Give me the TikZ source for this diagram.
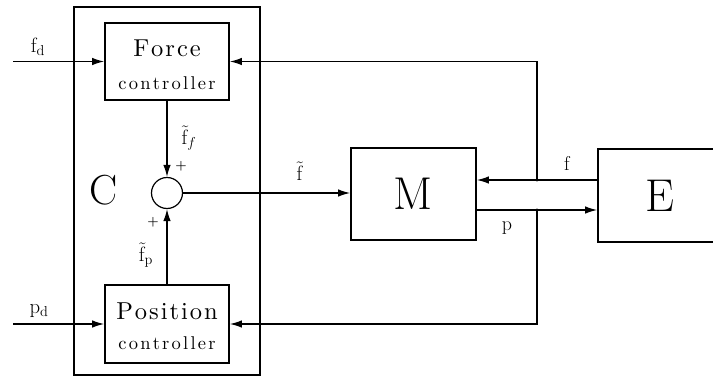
\documentclass[tikz,border=0pt]{standalone}
\usetikzlibrary{arrows.meta}
\makeatletter
\newcommand\lspaced[2]{\def\lsp@k{#1}\@tfor\lsp@c:=#2\do{\lsp@c\kern\lsp@k}\unkern}
\makeatother
\newcommand\boxbig[1]{\scalebox{2.45}{\fontsize{10}{12}\selectfont\lspaced{0.8pt}{#1}}}
\newcommand\boxsmall[1]{\scalebox{1.85}{\fontsize{10}{12}\selectfont\lspaced{1.2pt}{#1}}}
\begin{document}
\begin{tikzpicture}[x=1pt,y=-1pt,
  conn/.style={line width=1.2pt,-{Latex[length=12pt,width=7.5pt]}},
  blk/.style={draw,line width=1.8pt,inner sep=0pt},
  txt/.style={inner sep=0pt},
  lbl/.style={inner sep=0pt,font=\fontsize{20}{24}\selectfont},
  pls/.style={inner sep=0pt,font=\fontsize{13}{15}\selectfont\bfseries},
  big/.style={font=\fontsize{46}{50}\selectfont}]
\useasboundingbox (0,0) rectangle (713,378);
\clip (0,0) rectangle (713,378);
% outer controller box
\draw[line width=2.6pt] (74,7) rectangle (260,375);
\node[inner sep=0pt,font=\fontsize{42}{46}\selectfont] (C) at (104,190) {C};
% blocks
\node[blk,minimum width=124pt,minimum height=77pt] (fc) at (167,61.5) {};
\node[txt] (fc1) at (167,48.5) {\boxbig{Force}};
\node[txt] (fc2) at (167,83) {\boxsmall{controller}};
\node[blk,minimum width=124pt,minimum height=78pt] (pc) at (167,324) {};
\node[txt] (pc1) at (167,311.5) {\boxbig{Position}};
\node[txt] (pc2) at (167,343) {\boxsmall{controller}};
\node[draw,circle,line width=1.2pt,minimum size=31pt,inner sep=0pt] (sum) at (167,193) {};
\node[blk,minimum width=125pt,minimum height=92pt,big] (M) at (413.5,194) {M};
\node[blk,minimum width=124pt,minimum height=93pt,big] (E) at (660,195.5) {E};
% free ends and junctions
\coordinate (fdin) at (13,61.5);
\coordinate (pdin) at (13,324);
\coordinate (jf) at (537,180);
\coordinate (jp) at (537,210);
% connectors
\draw[conn] (fdin) -- (fc.west);
\draw[conn] (pdin) -- (pc.west);
\draw[conn] (fc.south) -- (sum.north);
\draw[conn] (pc.north) -- (sum.south);
\draw[conn] (sum.east) -- (M.west |- sum.east);
\draw[conn] (E.west |- jf) -- (M.east |- jf);
\draw[conn] (M.east |- jp) -- (E.west |- jp);
\draw[conn] (jf) |- (fc.east);
\draw[conn] (jp) |- (pc.east);
\fill (jf) circle (1.7pt);
\fill (jp) circle (1.7pt);
% labels
\node[lbl] (lfd) at (38,47) {$\mathrm{f}_{\mathrm{d}}$};
\node[lbl] (lpd) at (39,311) {$\mathrm{p}_{\mathrm{d}}$};
\node[lbl] (lff) at (189,138) {$\tilde{\mathrm{f}}_{f}$};
\node[lbl] (lfp) at (146,255) {$\tilde{\mathrm{f}}_{\mathrm{p}}$};
\node[lbl] (lft) at (300,171) {$\tilde{\mathrm{f}}$};
\node[lbl] (lf) at (567,163) {f};
\node[lbl] (lp) at (507,228) {p};
\node[pls] (p1) at (181,166) {+};
\node[pls] (p2) at (153,222) {+};
\end{tikzpicture}
\end{document}
